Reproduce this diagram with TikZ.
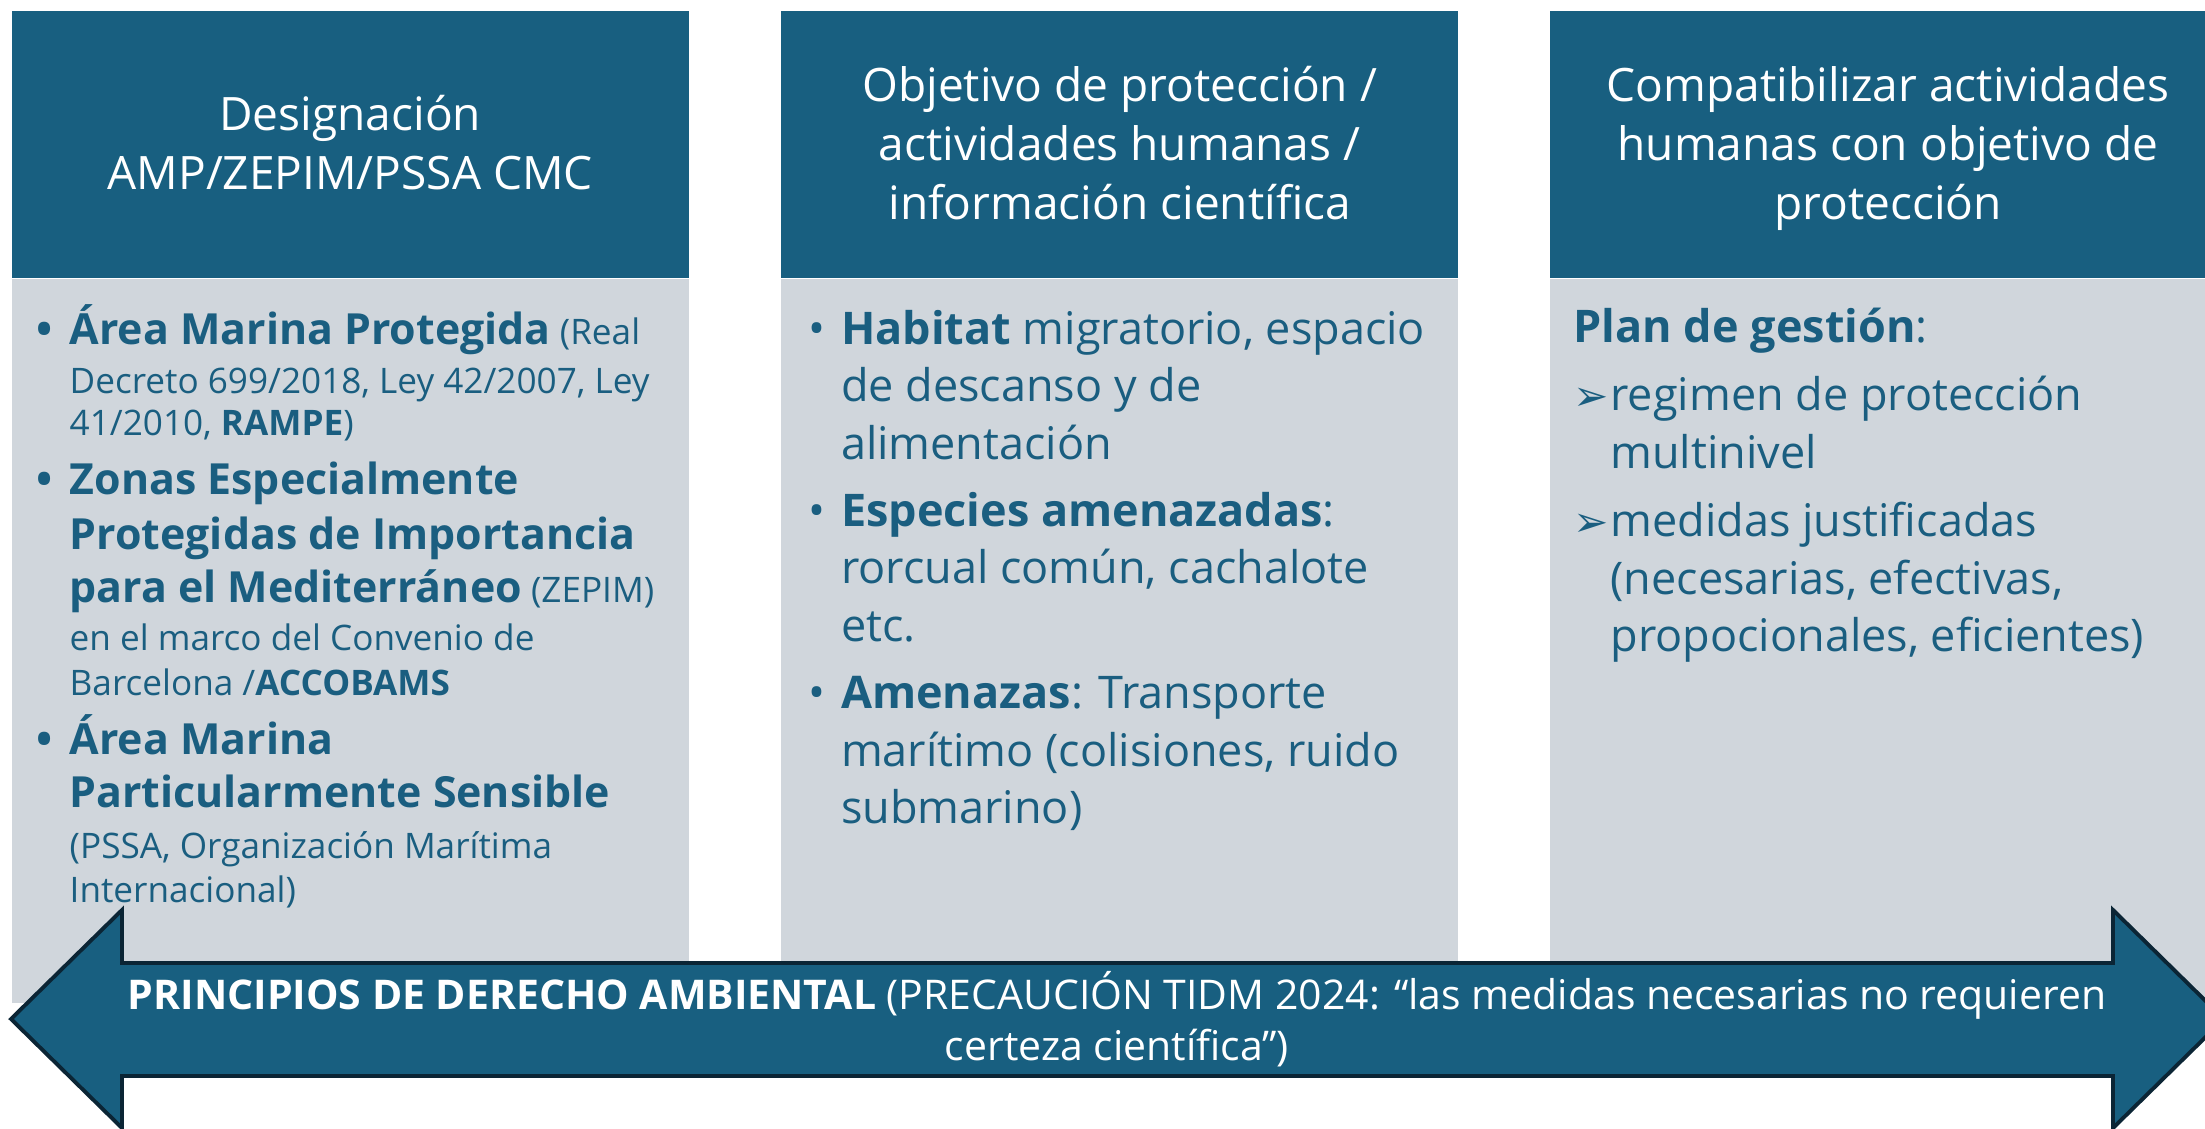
\documentclass[tikz,border=0pt]{standalone}
\usepackage{fontspec}
\setmainfont{Open Sans}
\newfontfamily\symfont{DejaVu Sans}
\usetikzlibrary{positioning}

\definecolor{headblue}{HTML}{185F80}
\definecolor{panelgray}{HTML}{D0D6DC}
\definecolor{inkblue}{HTML}{1A5E80}
\definecolor{rimnavy}{HTML}{0B2535}

\newcommand{\bulletmark}{\makebox[0.33cm][l]{•}}
\newcommand{\hangspace}{\hspace*{0.33cm}}
\newcommand{\tipmark}{\makebox[0.37cm][l]{\symfont\large ➢}}
\newcommand{\tipspace}{\hspace*{0.37cm}}
\newcommand{\bigbold}[1]{{\fontsize{12.2}{15.4}\selectfont\bfseries #1}}
% keeps the first and last lines of the headers equally tall
\newcommand{\tallstrut}{\vphantom{Ápy}}
% lines keep to the baselineskip, whatever their size
\newcommand{\tightlines}{\setlength{\lineskiplimit}{-20pt}}

\tikzset{
  header/.style={%
    fill=headblue, text=white,
    % all three columns have the same size
    minimum width=6.77cm, minimum height=2.67cm,
    inner sep=0pt, align=center,
    font=\fontsize{13.1}{16.8}\selectfont
  },
  panel/.style={%
    fill=panelgray,
    minimum width=6.77cm, minimum height=7.24cm,
    inner sep=0pt
  },
  panelText/.style={%
    text=inkblue, align=left, inner sep=0pt,
    font=\fontsize{12.8}{16.4}\selectfont\tightlines
  },
  bigArrow/.style={%
    fill=headblue, draw=rimnavy, line width=1.1pt, line join=miter
  }
}

\begin{document}
\begin{tikzpicture}

\path[use as bounding box, clip] (0,0) rectangle (22.05,11.28);

% Column headers. The first one is the "root" node, the others follow it.
\node[header, anchor=north west] (desigHead) at (0.11,11.18)
  {\tallstrut Designación\\AMP/ZEPIM/PSSA CMC\tallstrut};
\node[header, right=0.91cm of desigHead] (objHead)
  {\tallstrut Objetivo de protección /\\actividades humanas /\\%
   información científica\tallstrut};
\node[header, right=0.90cm of objHead] (compHead)
  {\tallstrut Compatibilizar actividades\\humanas con objetivo de\\%
   protección\tallstrut};

% Grey panels under the headers.
\node[panel, below=0pt of desigHead] (desigBody) {};
\node[panel, below=0pt of objHead] (objBody) {};
\node[panel, below=0pt of compHead] (compBody) {};

% Texts of the panels.
\node[panelText, font=\fontsize{10}{12}\selectfont\tightlines,
  below right=0.25cm and 0.25cm of desigBody.north west] (desigText) {%
  \bigbold{\bulletmark Área Marina Protegida} (Real\\[2pt]
  \hangspace Decreto 699/2018, Ley 42/2007, Ley\\
  \hangspace 41/2010, \textbf{RAMPE})\\[4.8pt]
  \bigbold{\bulletmark Zonas Especialmente}\\[3.7pt]
  \hangspace\bigbold{Protegidas de Importancia}\\[3.1pt]
  \hangspace\bigbold{para el Mediterráneo} (ZEPIM)\\[1.7pt]
  \hangspace en el marco del Convenio de\\[0.8pt]
  \hangspace Barcelona /\textbf{ACCOBAMS}\\[4.6pt]
  \bigbold{\bulletmark Área Marina}\\[3.1pt]
  \hangspace\bigbold{Particularmente Sensible}\\[2.6pt]
  \hangspace (PSSA, Organización Marítima\\[0.6pt]
  \hangspace Internacional)};

\node[panelText, below right=0.31cm and 0.27cm of objBody.north west]
  (objText) {%
  \bulletmark\textbf{Habitat} migratorio, espacio\\
  \hangspace de descanso y de\\
  \hangspace alimentación\\[2.6pt]
  \bulletmark\textbf{Especies amenazadas}:\\
  \hangspace rorcual común, cachalote\\
  \hangspace etc.\\[2.6pt]
  \bulletmark\textbf{Amenazas}: Transporte\\
  \hangspace marítimo (colisiones, ruido\\
  \hangspace submarino)};

\node[panelText, below right=0.29cm and 0.24cm of compBody.north west]
  (compText) {%
  \textbf{Plan de gestión}:\\[3pt]
  \tipmark regimen de protección\\
  \tipspace multinivel\\[3pt]
  \tipmark medidas justificadas\\
  \tipspace (necesarias, efectivas,\\
  \tipspace propocionales, eficientes)};

% Double arrow across the bottom, over the panels.
\draw[bigArrow] (0.11,1.09) -- (1.22,2.18) -- (1.22,1.65) -- (21.13,1.65)
  -- (21.13,2.18) -- (22.24,1.09) -- (21.13,0) -- (21.13,0.52)
  -- (1.22,0.52) -- (1.22,0) -- cycle;
\node[text=white, align=center, font=\fontsize{11.65}{14.5}\selectfont]
  (principios) at (11.17,1.09) {%
  \textbf{PRINCIPIOS DE DERECHO AMBIENTAL} (PRECAUCIÓN TIDM 2024: “las
  medidas necesarias no requieren\\certeza científica”)};

\end{tikzpicture}
\end{document}
